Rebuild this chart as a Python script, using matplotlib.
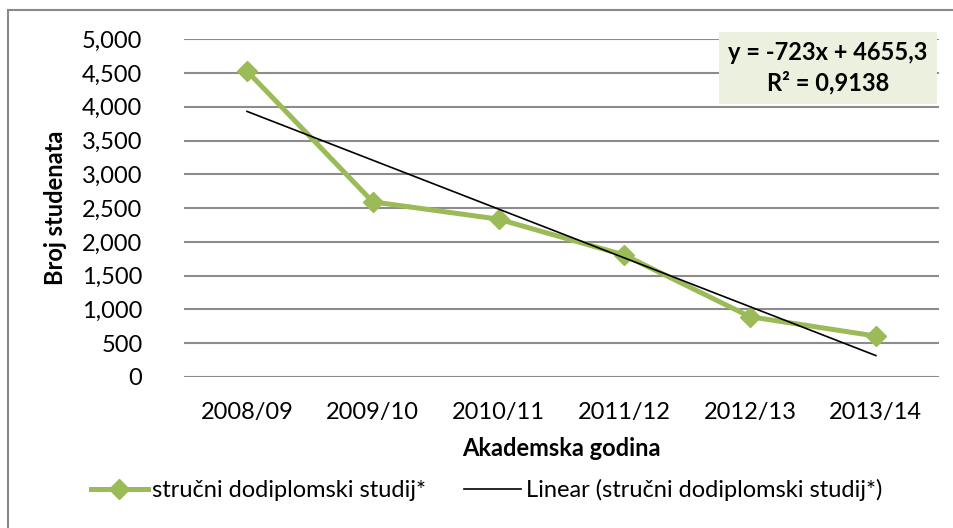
import numpy as np
import matplotlib
matplotlib.use('Agg')
import matplotlib.pyplot as plt
from matplotlib.patches import Rectangle

# data
years = ['2008/09', '2009/10', '2010/11', '2011/12', '2012/13', '2013/14']
students = [4530, 2593, 2337, 1805, 892, 606]
trend_slope = -723
trend_icept = 4655.3
r2_text = '0,9138'
yticks = [0, 500, 1000, 1500, 2000, 2500, 3000, 3500, 4000, 4500, 5000]

green = '#9BBB59'
grid_col = '#8C8C8C'
fs = 17

plt.rcParams['font.family'] = ['Lato', 'DejaVu Sans']

fig = plt.figure(figsize=(9.54, 5.28), dpi=100)
ax = fig.add_axes([0.193, 0.286, 0.791, 0.6396])

x = np.arange(1, len(years) + 1)
ax.plot(x, students, color=green, lw=3.6, marker='D', ms=10,
        label='stručni dodiplomski studij*', zorder=3)
trend = trend_slope * x + trend_icept
ax.plot([x[0], x[-1]], [trend[0], trend[-1]], color='black', lw=1.2,
        label='Linear (stručni dodiplomski studij*)', zorder=4)

ax.set_xlim(0.5, len(years) + 0.5)
ax.set_ylim(0, 5000)
ax.set_xticks(x)
ax.set_xticklabels(years, fontsize=fs)
ax.set_yticks(yticks)
ax.set_yticklabels(['{:,}'.format(v) for v in yticks], fontsize=fs)
ax.tick_params(axis='y', length=0, pad=30)
ax.tick_params(axis='x', length=0, pad=18)
ax.yaxis.grid(True, color=grid_col, lw=1.5)
ax.set_axisbelow(True)
for s in ax.spines.values():
    s.set_visible(False)

ax.set_ylabel('Broj studenata', fontsize=fs, fontweight='bold')
ax.yaxis.set_label_coords(-0.155, 0.5)
ax.set_xlabel('Akademska godina', fontsize=fs, fontweight='bold', labelpad=10)

fig.text(828 / 954, 1 - 68 / 528, 'y = -723x + 4655,3\nR² = ' + r2_text,
         ha='center', va='center', fontsize=fs,
         fontweight='bold', linespacing=1.35,
         bbox=dict(boxstyle='square,pad=0.4', fc='#EBF1DE', ec='none'))

fig.legend(loc='center', bbox_to_anchor=(0.51, 1 - 490 / 528), ncol=2,
           frameon=False, fontsize=fs, handlelength=2.4, handletextpad=0.2,
           columnspacing=1.6, borderaxespad=0)

# outer chart border (cut off at right/bottom in the reference)
fig.patches.append(Rectangle((8 / 954, -0.1), 1.2, 1 - 10 / 528 + 0.1,
                             transform=fig.transFigure, fill=False,
                             ec='#898989', lw=1.5))

fig.savefig('out.png', dpi=100)
